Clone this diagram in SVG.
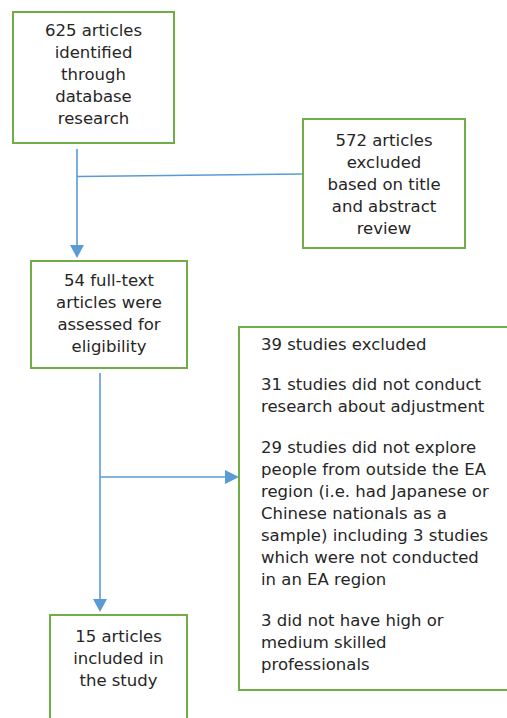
<svg xmlns="http://www.w3.org/2000/svg" width="507" height="718" viewBox="0 0 507 718">
<style>
.box{fill:#fff;stroke:#70ad47;stroke-width:2}
.ln{fill:none;stroke:#5b9bd5;stroke-width:1.6}
.ah{fill:#5b9bd5}
text{font-family:"DejaVu Sans","Liberation Sans",sans-serif;font-size:16.5px;fill:#262626}
.c{text-anchor:middle}
</style>
<rect width="507" height="718" fill="#fff"/>
<g id="connectors">
<path class="ln" d="M77 149V246M77 176.5L303 174"/>
<polygon class="ah" points="70,245 84,245 77,258"/>
<path class="ln" d="M100 373V600M100 477H226"/>
<polygon class="ah" points="93,599 107,599 100,612"/>
<polygon class="ah" points="225,470 225,484 239,477"/>
</g>
<g id="n1">
<rect class="box" x="13" y="12" width="161" height="131"/>
<text class="c" x="93.5" y="36">625 articles</text>
<text class="c" x="93.5" y="58">identified</text>
<text class="c" x="93.5" y="80">through</text>
<text class="c" x="93.5" y="102">database</text>
<text class="c" x="93.5" y="124">research</text>
</g>
<g id="n2">
<rect class="box" x="303" y="119" width="162" height="129"/>
<text class="c" x="384" y="146">572 articles</text>
<text class="c" x="384" y="168">excluded</text>
<text class="c" x="384" y="190">based on title</text>
<text class="c" x="384" y="212">and abstract</text>
<text class="c" x="384" y="234">review</text>
</g>
<g id="n3">
<rect class="box" x="31" y="261" width="156" height="107"/>
<text class="c" x="109" y="286">54 full-text</text>
<text class="c" x="109" y="308">articles were</text>
<text class="c" x="109" y="330">assessed for</text>
<text class="c" x="109" y="352">eligibility</text>
</g>
<g id="n4">
<rect class="box" x="239" y="327" width="280" height="363"/>
<text x="261" y="350">39 studies excluded</text>
<text x="261" y="390">31 studies did not conduct</text>
<text x="261" y="412">research about adjustment</text>
<text x="261" y="453">29 studies did not explore</text>
<text x="261" y="475">people from outside the EA</text>
<text x="261" y="497">region (i.e. had Japanese or</text>
<text x="261" y="519">Chinese nationals as a</text>
<text x="261" y="541">sample) including 3 studies</text>
<text x="261" y="563">which were not conducted</text>
<text x="261" y="585">in an EA region</text>
<text x="261" y="626">3 did not have high or</text>
<text x="261" y="648">medium skilled</text>
<text x="261" y="670">professionals</text>
</g>
<g id="n5">
<rect class="box" x="50" y="615" width="137" height="120"/>
<text class="c" x="118.5" y="642">15 articles</text>
<text class="c" x="118.5" y="664">included in</text>
<text class="c" x="118.5" y="686">the study</text>
</g>
</svg>
